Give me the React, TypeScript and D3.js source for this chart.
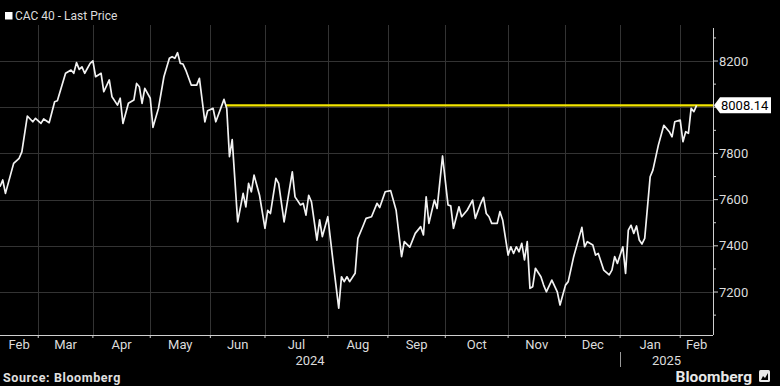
import * as d3 from "d3";
import React, { useRef, useEffect } from "react";

// x axis counts Euronext trading days, day 0 = 12 Feb 2024
const firstDay = "2024-02-12";
const lastDay = "2025-02-19";
const holidays = ["2024-03-29", "2024-04-01", "2024-05-01", "2024-12-25", "2024-12-26", "2025-01-01"];

// CAC 40 closes (trading day, level)
const days = [
  0, 1, 2, 5, 7, 8, 10, 12, 13, 15, 16, 18, 20, 21, 24, 26, 27, 28, 29, 30, 31, 33, 34, 35, 37, 38,
  40, 41, 43, 44, 45, 47, 49, 50, 51, 52, 53, 55, 56, 58, 60, 62, 63, 64, 65, 66, 67, 68, 70, 72, 73,
  75, 76, 78, 79, 82, 83, 84, 85, 87, 89, 90, 91, 92, 93, 95, 97, 98, 99, 101, 102, 104, 107, 108,
  110, 111, 112, 113, 114, 116, 117, 118, 120, 122, 124, 125, 126, 127, 128, 130, 131, 133, 134, 136,
  138, 139, 141, 143, 145, 147, 148, 150, 152, 154, 155, 156, 157, 159, 160, 162, 164, 165, 166, 168,
  169, 171, 173, 174, 176, 177, 178, 179, 180, 182, 183, 184, 186, 187, 188, 189, 190, 191, 192, 193,
  194, 195, 196, 198, 199, 200, 202, 204, 205, 207, 208, 210, 213, 214, 215, 217, 218, 219, 221, 223,
  224, 225, 226, 228, 229, 230, 231, 232, 233, 234, 235, 236, 238, 239, 241, 243, 245, 246, 247, 249,
  250, 251, 252, 253, 254, 255,
];
const closes = [
  7656, 7685, 7627, 7757, 7779, 7807, 7962, 7937, 7952, 7930, 7949, 7933, 8024, 8028, 8147, 8161, 8147,
  8193, 8164, 8175, 8147, 8190, 8201, 8132, 8147, 8067, 8118, 8045, 8009, 8039, 7930, 8017, 8031, 8103,
  8089, 8017, 8082, 8039, 7913, 7995, 8132, 8212, 8219, 8212, 8236, 8190, 8187, 8161, 8096, 8096, 8125,
  7937, 7985, 7995, 7937, 8034, 7995, 7786, 7860, 7504, 7627, 7569, 7670, 7634, 7706, 7619, 7476, 7554,
  7540, 7692, 7670, 7504, 7720, 7612, 7577, 7584, 7533, 7619, 7591, 7425, 7512, 7440, 7526, 7324, 7130,
  7266, 7245, 7266, 7245, 7281, 7432, 7489, 7519, 7526, 7584, 7566, 7634, 7639, 7554, 7353, 7418, 7394,
  7454, 7483, 7447, 7612, 7497, 7598, 7562, 7789, 7577, 7573, 7476, 7569, 7526, 7554, 7598, 7519, 7584,
  7610, 7540, 7526, 7497, 7497, 7548, 7512, 7360, 7396, 7367, 7396, 7374, 7411, 7339, 7418, 7216, 7223,
  7303, 7266, 7230, 7201, 7252, 7201, 7144, 7230, 7245, 7353, 7480, 7396, 7418, 7404, 7360, 7367, 7295,
  7274, 7295, 7353, 7324, 7396, 7281, 7468, 7489, 7454, 7486, 7425, 7408, 7432, 7699, 7728, 7836, 7922,
  7894, 7872, 7937, 7944, 7851, 7894, 7887, 7995, 7981, 8008.14,
];
const lastPrice = 8008.14;
const yTicks = [7200, 7400, 7600, 7800, 8000, 8200];
const yMinorTicks = [7100, 7300, 7500, 7700, 7900, 8100, 8300];
const yDomain = [7014, 8343];

const W = 780;
const H = 386;
const plotRight = 713;
const plotTop = 28;
const plotBottom = 335;
const font = "Roboto, 'DejaVu Sans', sans-serif";

export default function App() {
  const ref = useRef<SVGSVGElement>(null);

  useEffect(() => {
    document.body.style.margin = "0";
    const svg = d3.select(ref.current);
    svg.selectAll("*").remove();

    const parse = d3.utcParse("%Y-%m-%d");
    const fmt = d3.utcFormat("%Y-%m-%d");
    const cal = d3.utcDay
      .range(parse(firstDay)!, d3.utcDay.offset(parse(lastDay)!, 1))
      .filter((d) => d.getUTCDay() !== 0 && d.getUTCDay() !== 6 && !holidays.includes(fmt(d)));
    const lastIdx = cal.length - 1;

    const x = d3.scaleLinear().domain([0, lastIdx]).range([0, plotRight]);
    const y = d3.scaleLinear().domain(yDomain).range([plotBottom, plotTop]);

    // first trading day of every month
    const monthStarts: number[] = [];
    cal.forEach((d, i) => {
      if (i > 0 && d.getUTCMonth() !== cal[i - 1].getUTCMonth()) monthStarts.push(i);
    });

    svg.append("rect").attr("width", W).attr("height", H).attr("fill", "#000");

    const grid = svg.append("g").attr("stroke", "#333").attr("stroke-width", 1);
    grid
      .selectAll("line.h")
      .data(yTicks)
      .join("line")
      .attr("x1", 0)
      .attr("x2", plotRight)
      .attr("y1", (d) => Math.round(y(d)) + 0.5)
      .attr("y2", (d) => Math.round(y(d)) + 0.5);
    grid
      .selectAll("line.v")
      .data(monthStarts)
      .join("line")
      .attr("x1", (d) => Math.round(x(d)) + 0.5)
      .attr("x2", (d) => Math.round(x(d)) + 0.5)
      .attr("y1", plotTop - 3)
      .attr("y2", plotBottom);

    // last price line, from where the index last stood at that level
    let k = closes.length - 2;
    while (k > 0 && closes[k] < lastPrice) k--;
    const t = (closes[k] - lastPrice) / (closes[k] - closes[k + 1]);
    const startX = x(days[k] + t * (days[k + 1] - days[k]));
    svg
      .append("line")
      .attr("x1", startX)
      .attr("x2", plotRight)
      .attr("y1", y(lastPrice))
      .attr("y2", y(lastPrice))
      .attr("stroke", "#f3e600")
      .attr("stroke-width", 2.2);

    const line = d3
      .line<number>()
      .x((_, i) => x(days[i]))
      .y((d) => y(d));
    svg
      .append("path")
      .datum(closes)
      .attr("d", line)
      .attr("fill", "none")
      .attr("stroke", "#f2f2f2")
      .attr("stroke-width", 1.7)
      .attr("stroke-linejoin", "round");

    // axes
    const axisColor = "#cfcfcf";
    svg
      .append("line")
      .attr("x1", plotRight + 0.5)
      .attr("x2", plotRight + 0.5)
      .attr("y1", plotTop)
      .attr("y2", plotBottom)
      .attr("stroke", axisColor);
    svg
      .append("line")
      .attr("x1", 0)
      .attr("x2", plotRight)
      .attr("y1", plotBottom + 0.5)
      .attr("y2", plotBottom + 0.5)
      .attr("stroke", axisColor);

    svg
      .append("g")
      .selectAll("line")
      .data(yTicks)
      .join("line")
      .attr("x1", plotRight)
      .attr("x2", plotRight + 5)
      .attr("y1", (d) => y(d))
      .attr("y2", (d) => y(d))
      .attr("stroke", axisColor);
    svg
      .append("g")
      .selectAll("line")
      .data(yMinorTicks)
      .join("line")
      .attr("x1", plotRight)
      .attr("x2", plotRight + 3)
      .attr("y1", (d) => y(d))
      .attr("y2", (d) => y(d))
      .attr("stroke", axisColor);

    svg
      .append("g")
      .selectAll("text")
      .data(yTicks.filter((d) => Math.abs(y(d) - y(lastPrice)) > 12))
      .join("text")
      .attr("x", plotRight + 6)
      .attr("y", (d) => y(d))
      .attr("dy", "0.35em")
      .attr("fill", "#dcdcdc")
      .attr("font-family", font)
      .attr("font-size", 13)
      .text((d) => d);

    svg
      .append("g")
      .selectAll("line")
      .data(monthStarts)
      .join("line")
      .attr("x1", (d) => x(d))
      .attr("x2", (d) => x(d))
      .attr("y1", plotBottom)
      .attr("y2", plotBottom + 3)
      .attr("stroke", axisColor);

    // month labels centred in each month's span
    const edges = [0, ...monthStarts, lastIdx];
    const spans = edges.slice(0, -1).map((s, i) => [s, edges[i + 1]]);
    svg
      .append("g")
      .selectAll("text")
      .data(spans)
      .join("text")
      .attr("x", (d) => (x(d[0]) + x(d[1])) / 2)
      .attr("y", 349)
      .attr("text-anchor", "middle")
      .attr("fill", "#dcdcdc")
      .attr("font-family", font)
      .attr("font-size", 13)
      .text((d) => d3.utcFormat("%b")(cal[d[1] - 1]));

    const yearStart = monthStarts.find((i) => cal[i].getUTCMonth() === 0)!;
    const years = [
      [0, yearStart],
      [yearStart, lastIdx],
    ];
    svg
      .append("g")
      .selectAll("text")
      .data(years)
      .join("text")
      .attr("x", (d) => (x(d[0]) + x(d[1])) / 2)
      .attr("y", 365)
      .attr("text-anchor", "middle")
      .attr("fill", "#dcdcdc")
      .attr("font-family", font)
      .attr("font-size", 13)
      .text((d) => d3.utcFormat("%Y")(cal[d[0]]));
    svg
      .append("line")
      .attr("x1", Math.round(x(yearStart)) + 0.5)
      .attr("x2", Math.round(x(yearStart)) + 0.5)
      .attr("y1", 352)
      .attr("y2", 367)
      .attr("stroke", "#9a9a9a");

    // last price tag
    const ly = y(lastPrice);
    svg
      .append("path")
      .attr("d", `M${plotRight + 1},${ly} L${plotRight + 7},${ly - 8} H771 V${ly + 8} H${plotRight + 7} Z`)
      .attr("fill", "#ffffff");
    svg
      .append("text")
      .attr("x", plotRight + 8)
      .attr("y", ly)
      .attr("dy", "0.36em")
      .attr("fill", "#000")
      .attr("font-family", font)
      .attr("font-size", 13)
      .text(lastPrice.toFixed(2));

    // title
    svg.append("rect").attr("x", 5).attr("y", 12).attr("width", 7.5).attr("height", 7.5).attr("fill", "#fff");
    svg
      .append("text")
      .attr("x", 15)
      .attr("y", 20)
      .attr("fill", "#dcdcdc")
      .attr("font-family", font)
      .attr("font-size", 12)
      .text("CAC 40 - Last Price");

    // footer
    svg
      .append("text")
      .attr("x", 3)
      .attr("y", 382)
      .attr("fill", "#e0e0e0")
      .attr("font-family", font)
      .attr("font-weight", "bold")
      .attr("font-size", 12.5)
      .attr("letter-spacing", 0.6)
      .text("Source: Bloomberg");
    svg
      .append("text")
      .attr("x", 752)
      .attr("y", 382)
      .attr("text-anchor", "end")
      .attr("fill", "#e8e8e8")
      .attr("font-family", font)
      .attr("font-weight", "bold")
      .attr("font-size", 15.5)
      .text("Bloomberg");
    const icon = svg.append("g").attr("transform", "translate(759,370)");
    icon.append("rect").attr("width", 11).attr("height", 12).attr("rx", 1.5).attr("fill", "#e8e8e8");
    icon.append("path").attr("d", "M2,10 L4,6 L6,8 L9,3 V10 Z").attr("fill", "#000");
  }, []);

  return <svg ref={ref} width={W} height={H} style={{ display: "block" }}></svg>;
}
